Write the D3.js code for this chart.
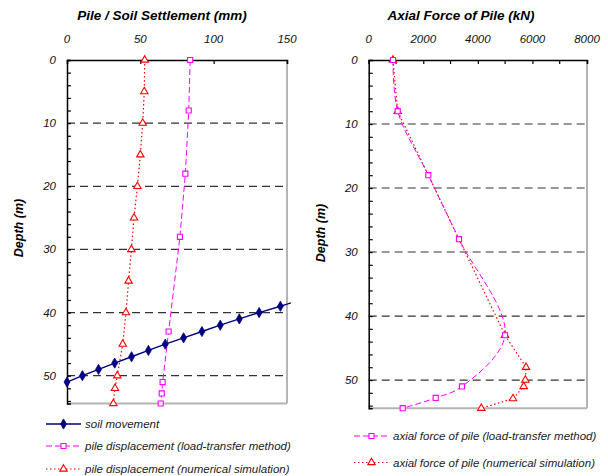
<!DOCTYPE html>
<html>
<head>
<meta charset="utf-8">
<script src="https://cdn.jsdelivr.net/npm/d3@7/dist/d3.min.js"></script>
<style>
  html, body { margin: 0; padding: 0; background: #fff; }
  svg { display: block; font-family: "Liberation Sans", Arial, sans-serif; }
  .tick-label { font-size: 11.5px; font-style: italic; fill: #111; }
  .title { font-size: 13.5px; font-weight: bold; font-style: italic; fill: #000; }
  .legend-text { font-size: 11.5px; font-style: italic; fill: #222; }
</style>
</head>
<body>
<svg id="chart" width="608" height="476"></svg>
<script>
// ---- Settlement panel (mm) ----
const soilDepth = [51, 50, 49, 48, 47, 46, 45, 44, 43, 42, 41, 40, 39, 38];
const soilMove  = [0, 10.5, 21.5, 32.5, 44, 55.5, 67, 79.5, 92, 104.5, 117.5, 131, 145.5, 159];

const ltDepth = [0, 8, 18, 28, 43, 51, 52.8, 54.4];
const ltDisp  = [84, 83, 80.7, 77, 69.3, 65.2, 64.6, 63.9];

const nsDepth = [0, 5, 10, 15, 20, 25, 30, 35, 40, 45, 50, 52, 54.4];
const nsDisp  = [53, 52.7, 51.6, 50, 48, 45.7, 43.9, 42, 40.2, 38, 34.3, 32.7, 31.6];

// ---- Axial force panel (kN) ----
const ltForceDepth = [0, 8, 18, 28, 43, 51, 52.8, 54.4];
const ltForce      = [890, 1063, 2185, 3309, 4995, 3419, 2455, 1246];

const nsForceDepth = [0, 8, 43, 48, 50, 51, 52.9, 54.4];
const nsForce      = [890, 1063, 4995, 5765, 5740, 5680, 5288, 4127];

// ---- Axis ticks and labels ----
const depthTicks = [0, 10, 20, 30, 40, 50];
const gridDepths = [10, 20, 30, 40, 50];
const settleTicks = [0, 50, 100, 150];
const forceTicks = [0, 2000, 4000, 6000, 8000];
const forceMinor = [1000, 3000, 5000, 7000];
const depthMax = 54.4;

const titles = ["Pile / Soil Settlement (mm)", "Axial Force of Pile (kN)"];
const depthLabel = "Depth (m)";
const leftLegend = ["soil movement", "pile displacement (load-transfer method)", "pile displacement (numerical simulation)"];
const rightLegend = ["axial force of pile (load-transfer method)", "axial force of pile (numerical simulation)"];

const svg = d3.select("#chart");
const NAVY = "#000080", MAG = "#ff00ff", RED = "#ff0000";

const zip = (ds, vs) => ds.map((d, i) => ({ depth: d, value: vs[i] }));

function drawFrame(g, x, y, xTicks, xMinor, opts) {
  const [x0, x1] = x.range();
  const [y0, y1] = y.range();
  // grid lines
  g.append("g").selectAll("line").data(gridDepths).join("line")
    .attr("x1", x0).attr("x2", x1)
    .attr("y1", d => y(d)).attr("y2", d => y(d))
    .attr("stroke", "#333").attr("stroke-width", 1.2)
    .attr("stroke-dasharray", "8,5");
  // right and bottom borders
  g.append("line").attr("x1", x1).attr("x2", x1).attr("y1", y0).attr("y2", y1)
    .attr("stroke", "#b4b4b4").attr("stroke-width", 2);
  g.append("line").attr("x1", x0).attr("x2", x1).attr("y1", y1).attr("y2", y1)
    .attr("stroke", "#b4b4b4").attr("stroke-width", 2);

  // top axis
  const top = g.append("g").attr("transform", `translate(0,${y0})`)
    .call(d3.axisTop(x).tickValues(xTicks).tickSize(-4).tickPadding(0).tickFormat(""));
  top.select(".domain").attr("stroke", "#000").attr("stroke-width", 1.5);
  top.selectAll(".tick line").attr("stroke", "#000").attr("stroke-width", 1.2);
  if (xMinor.length) {
    g.append("g").selectAll("line").data(xMinor).join("line")
      .attr("x1", d => x(d)).attr("x2", d => x(d))
      .attr("y1", y0).attr("y2", y0 + 4)
      .attr("stroke", "#000").attr("stroke-width", 1.2);
  }
  g.append("g").selectAll("text").data(xTicks).join("text")
    .attr("class", "tick-label")
    .attr("x", d => x(d)).attr("y", 43)
    .attr("text-anchor", "middle")
    .text(d => d);

  // left axis, minor ticks every 2 m
  const minor = d3.range(0, depthMax, 2);
  const left = g.append("g").attr("transform", `translate(${x0},0)`)
    .call(d3.axisLeft(y).tickValues(minor).tickSize(-4).tickFormat(""));
  left.select(".domain").attr("stroke", "#000").attr("stroke-width", 1.5);
  left.selectAll(".tick line").attr("stroke", "#000").attr("stroke-width", 1.2);
  g.append("g").selectAll("text").data(depthTicks).join("text")
    .attr("class", "tick-label")
    .attr("x", x0 - 11).attr("y", d => y(d) + 4)
    .attr("text-anchor", "end")
    .text(d => d);

  // titles
  g.append("text").attr("class", "title")
    .attr("x", opts.titleX).attr("y", 20)
    .attr("text-anchor", "middle").text(opts.title);
  g.append("text").attr("class", "title")
    .attr("transform", `translate(${opts.depthX},${opts.depthY}) rotate(-90)`)
    .attr("text-anchor", "middle").style("font-size", "12.5px")
    .text(depthLabel);
}

const marker = {
  diamond: (sel, s) => sel.append("path").attr("d", d3.symbol(d3.symbolDiamond, s))
    .attr("fill", NAVY).attr("stroke", NAVY).attr("stroke-width", 0.8),
  square: (sel, s) => sel.append("path").attr("d", d3.symbol(d3.symbolSquare, s))
    .attr("fill", "#fff").attr("stroke", MAG).attr("stroke-width", 1.1),
  triangle: (sel, s) => sel.append("path").attr("d", d3.symbol(d3.symbolTriangle, s))
    .attr("fill", "#fff").attr("stroke", RED).attr("stroke-width", 1.1)
};

function drawSeries(g, x, y, data, style, curve, clipId) {
  const line = d3.line().x(d => x(d.value)).y(d => y(d.depth)).curve(curve);
  const path = g.append("path").datum(data)
    .attr("d", line).attr("fill", "none")
    .attr("stroke", style.color).attr("stroke-width", style.width);
  if (style.dash) path.attr("stroke-dasharray", style.dash);
  if (clipId) path.attr("clip-path", `url(#${clipId})`);
  const [xa, xb] = x.domain();
  data.filter(d => d.value >= xa && d.value <= xb).forEach(d => {
    const m = g.append("g").attr("transform", `translate(${x(d.value)},${y(d.depth)})`);
    marker[style.marker](m, style.size);
  });
}

// ===== Left panel =====
const xL = d3.scaleLinear().domain([0, 150]).range([67, 287]);
const yL = d3.scaleLinear().domain([0, depthMax]).range([60, 403.5]);
const gL = svg.append("g");
drawFrame(gL, xL, yL, settleTicks, [], { title: titles[0], titleX: 162, depthX: 23, depthY: 228 });

svg.append("defs").append("clipPath").attr("id", "clipL")
  .append("rect").attr("x", 60).attr("y", 55).attr("width", 231).attr("height", 352);

const sSoil = { color: NAVY, width: 1.4, marker: "diamond", size: 30 };
const sLT = { color: MAG, width: 1, dash: "6,3", marker: "square", size: 26 };
const sNS = { color: RED, width: 1.2, dash: "1.5,2.5", marker: "triangle", size: 24 };

drawSeries(gL, xL, yL, zip(ltDepth, ltDisp), sLT, d3.curveLinear);
drawSeries(gL, xL, yL, zip(nsDepth, nsDisp), sNS, d3.curveLinear);
drawSeries(gL, xL, yL, zip(soilDepth, soilMove), sSoil, d3.curveLinear, "clipL");

// ===== Right panel =====
const xR = d3.scaleLinear().domain([0, 8000]).range([368.7, 587]);
const yR = d3.scaleLinear().domain([0, depthMax]).range([60, 408.2]);
const gR = svg.append("g");
drawFrame(gR, xR, yR, forceTicks, forceMinor, { title: titles[1], titleX: 461, depthX: 325, depthY: 233 });

drawSeries(gR, xR, yR, zip(nsForceDepth, nsForce), sNS, d3.curveLinear);
drawSeries(gR, xR, yR, zip(ltForceDepth, ltForce), sLT, d3.curveCatmullRom);

// ===== Legends =====
function legendRow(g, x0, x1, yPos, style, label) {
  const row = g.append("g");
  const l = row.append("line").attr("x1", x0).attr("x2", x1).attr("y1", yPos).attr("y2", yPos)
    .attr("stroke", style.color).attr("stroke-width", style.width);
  if (style.dash) l.attr("stroke-dasharray", style.dash);
  const m = row.append("g").attr("transform", `translate(${(x0 + x1) / 2},${yPos})`);
  marker[style.marker](m, style.size);
  row.append("text").attr("class", "legend-text")
    .attr("x", x1 + 4).attr("y", yPos + 4).text(label);
}
const legL = svg.append("g");
[sSoil, sLT, sNS].forEach((s, i) => legendRow(legL, 46, 81, [424, 446, 469][i], s, leftLegend[i]));
const legR = svg.append("g");
[sLT, sNS].forEach((s, i) => legendRow(legR, 354, 389, [436, 462.5][i], s, rightLegend[i]));
</script>
</body>
</html>
